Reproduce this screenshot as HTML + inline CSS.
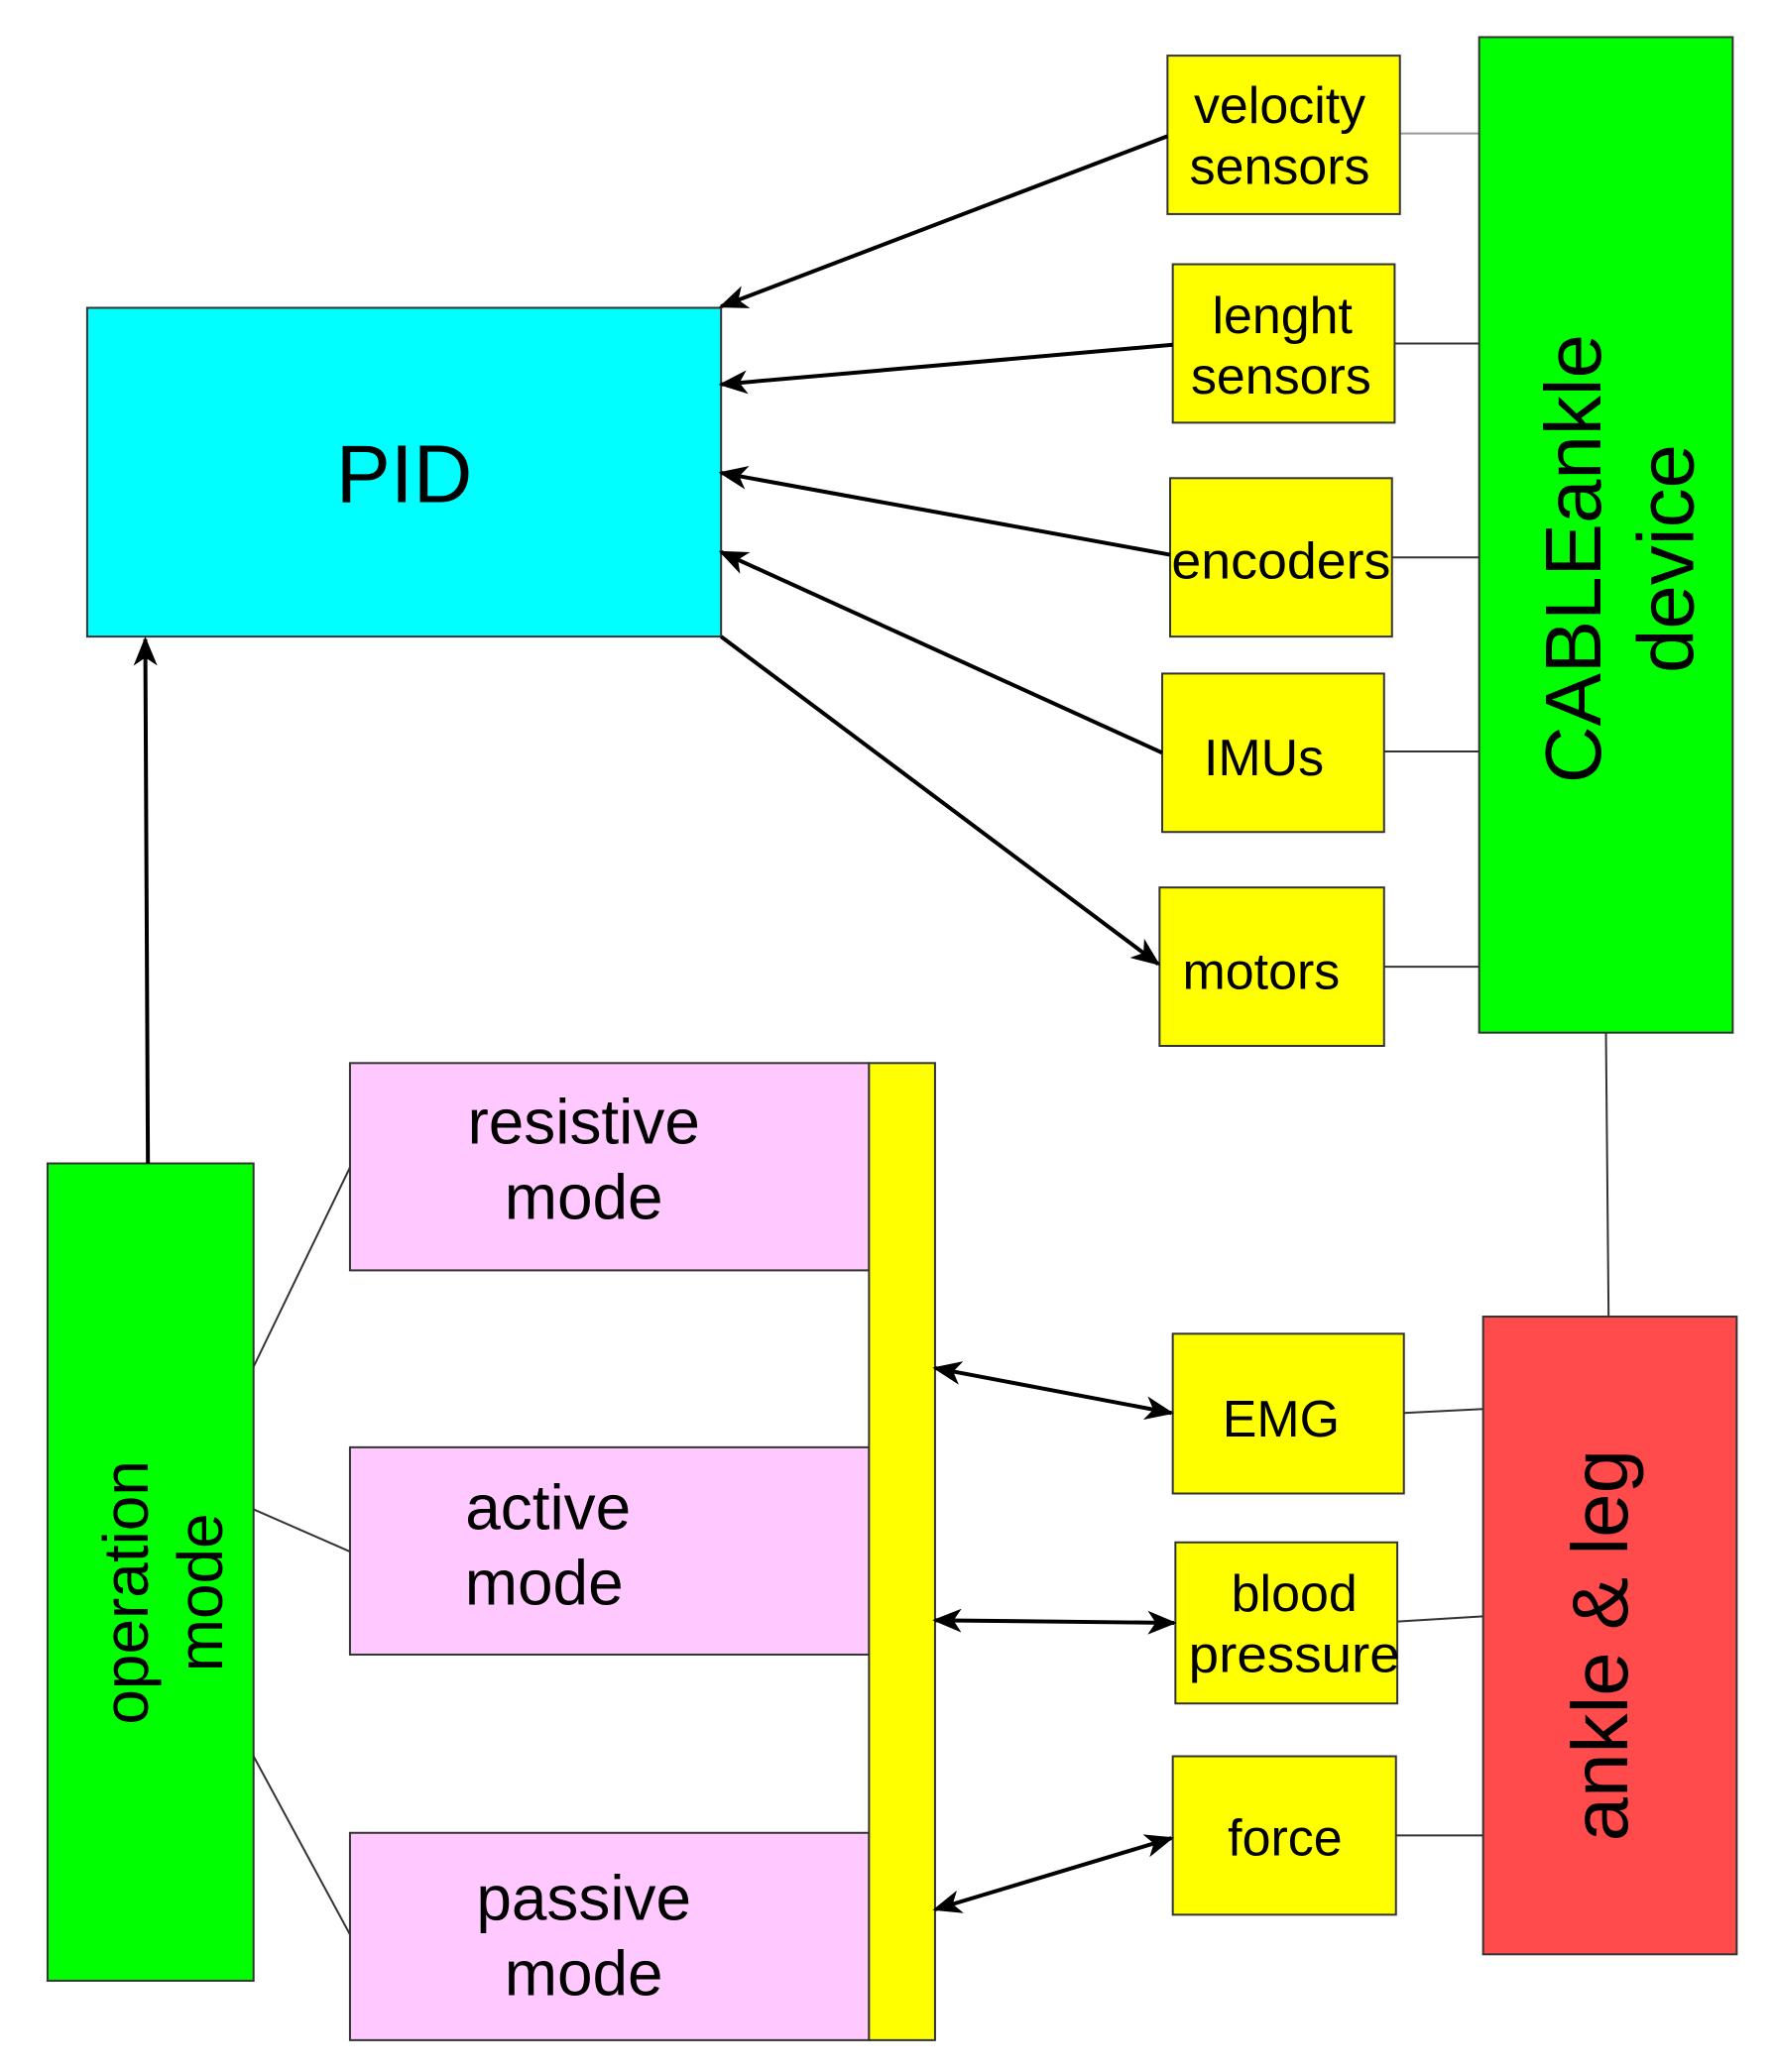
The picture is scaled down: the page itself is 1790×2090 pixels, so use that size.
<!DOCTYPE html>
<html><head><style>html,body{margin:0;padding:0;background:#fff}svg{display:block}</style></head>
<body>
<svg width="1790" height="2090" viewBox="0 0 1344 1569" xmlns="http://www.w3.org/2000/svg" font-family="Liberation Sans, sans-serif">
<defs>
<marker id="a" markerWidth="22" markerHeight="18" refX="20" refY="9" orient="auto-start-reverse" markerUnits="userSpaceOnUse" viewBox="0 0 22 18">
<path d="M0,0 L22,9 L0,18 L6,9 z" fill="#000"/></marker>
</defs>
<g stroke="#333" stroke-width="1.5" fill="none">
<line x1="1040" y1="101" x2="1120" y2="101" stroke="#999"/>
<line x1="1056" y1="260" x2="1120" y2="260"/>
<line x1="1054" y1="422" x2="1120" y2="422"/>
<line x1="1048" y1="569" x2="1120" y2="569"/>
<line x1="1048" y1="732" x2="1120" y2="732"/>
<line x1="1216" y1="782" x2="1218" y2="997"/>
<line x1="1063" y1="1070" x2="1123" y2="1067"/>
<line x1="1058" y1="1228" x2="1123" y2="1224"/>
<line x1="1057" y1="1390" x2="1123" y2="1390"/>
<line x1="192" y1="1035" x2="265" y2="884"/>
<line x1="192" y1="1143" x2="265" y2="1175"/>
<line x1="192" y1="1330" x2="265" y2="1465"/>
</g>
<g stroke="#333" stroke-width="1.5">
<rect x="66" y="233" width="480" height="249" fill="#00ffff"/>
<rect x="1120" y="28" width="192" height="754" fill="#00ff00"/>
<rect x="1123" y="997" width="192" height="483" fill="#ff4b4b"/>
<rect x="36" y="881" width="156" height="619" fill="#00ff00"/>
<rect x="265" y="805" width="393" height="157" fill="#ffc8ff"/>
<rect x="265" y="1096" width="393" height="157" fill="#ffc8ff"/>
<rect x="265" y="1388" width="393" height="157" fill="#ffc8ff"/>
<rect x="658" y="805" width="50" height="740" fill="#ffff00"/>
<rect x="884" y="42" width="176" height="120" fill="#ffff00"/>
<rect x="888" y="200" width="168" height="120" fill="#ffff00"/>
<rect x="886" y="362" width="168" height="120" fill="#ffff00"/>
<rect x="880" y="510" width="168" height="120" fill="#ffff00"/>
<rect x="878" y="672" width="170" height="120" fill="#ffff00"/>
<rect x="888" y="1010" width="175" height="121" fill="#ffff00"/>
<rect x="890" y="1168" width="168" height="122" fill="#ffff00"/>
<rect x="888" y="1330" width="169" height="120" fill="#ffff00"/>
</g>
<g stroke="#000" stroke-width="3" fill="none">
<line x1="884" y1="103" x2="546" y2="232" marker-end="url(#a)"/>
<line x1="888" y1="261" x2="546" y2="291" marker-end="url(#a)"/>
<line x1="886" y1="420" x2="546" y2="358" marker-end="url(#a)"/>
<line x1="880" y1="570" x2="546" y2="418" marker-end="url(#a)"/>
<line x1="546" y1="482" x2="877" y2="730" marker-end="url(#a)"/>
<line x1="112" y1="881" x2="110" y2="484" marker-end="url(#a)"/>
<line x1="708" y1="1036" x2="887" y2="1070" marker-start="url(#a)" marker-end="url(#a)"/>
<line x1="708" y1="1227" x2="889" y2="1229" marker-start="url(#a)" marker-end="url(#a)"/>
<line x1="708" y1="1446" x2="887" y2="1392" marker-start="url(#a)" marker-end="url(#a)"/>
</g>
<g fill="#000" font-size="39" text-anchor="middle">
<text x="306" y="380" font-size="62">PID</text>
<text x="969" y="93">velocity</text>
<text x="969" y="139">sensors</text>
<text x="971" y="252">lenght</text>
<text x="970" y="298">sensors</text>
<text x="970" y="438" textLength="166" lengthAdjust="spacingAndGlyphs">encoders</text>
<text x="957" y="587">IMUs</text>
<text x="955" y="749">motors</text>
<text x="970" y="1088">EMG</text>
<text x="980" y="1220">blood</text>
<text x="980" y="1266" textLength="160" lengthAdjust="spacingAndGlyphs">pressure</text>
<text x="973" y="1405">force</text>
<text x="442" y="866" font-size="48">resistive</text>
<text x="442" y="923" font-size="48">mode</text>
<text x="415" y="1158" font-size="48">active</text>
<text x="412" y="1215" font-size="48">mode</text>
<text x="442" y="1454" font-size="48">passive</text>
<text x="442" y="1511" font-size="48">mode</text>
<text transform="translate(1212,423) rotate(-90)" font-size="60">CABLEankle</text>
<text transform="translate(1282,423) rotate(-90)" font-size="60">device</text>
<text transform="translate(1232,1246) rotate(-90)" font-size="60">ankle &amp; leg</text>
<text transform="translate(112,1206) rotate(-90)" font-size="48">operation</text>
<text transform="translate(168,1206) rotate(-90)" font-size="48">mode</text>
</g>
</svg>
</body></html>
